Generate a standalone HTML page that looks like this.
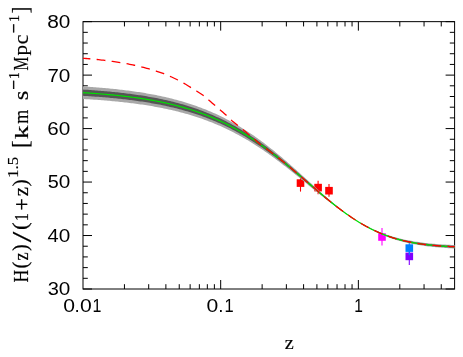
<!DOCTYPE html>
<html><head><meta charset="utf-8"><title>H(z)</title>
<style>html,body{margin:0;padding:0;background:#fff}body{width:463px;height:357px;overflow:hidden;font-family:"Liberation Sans",sans-serif}svg text{font-kerning:none}</style></head>
<body>
<svg width="463" height="357" viewBox="0 0 463 357" style="display:block;font-kerning:none">
<rect width="463" height="357" fill="#fff"/>
<g stroke="#000" stroke-width="1" fill="none" stroke-linecap="butt">
<rect x="83.00" y="21.65" width="371.60" height="267.35"/>
<path d="M124.45 289.00 v-4.80 M124.45 21.65 v4.80 M148.69 289.00 v-4.80 M148.69 21.65 v4.80 M165.89 289.00 v-4.80 M165.89 21.65 v4.80 M179.24 289.00 v-4.80 M179.24 21.65 v4.80 M190.14 289.00 v-4.80 M190.14 21.65 v4.80 M199.35 289.00 v-4.80 M199.35 21.65 v4.80 M207.34 289.00 v-4.80 M207.34 21.65 v4.80 M214.38 289.00 v-4.80 M214.38 21.65 v4.80 M220.68 289.00 v-9.00 M220.68 21.65 v9.00 M262.13 289.00 v-4.80 M262.13 21.65 v4.80 M286.37 289.00 v-4.80 M286.37 21.65 v4.80 M303.58 289.00 v-4.80 M303.58 21.65 v4.80 M316.92 289.00 v-4.80 M316.92 21.65 v4.80 M327.82 289.00 v-4.80 M327.82 21.65 v4.80 M337.04 289.00 v-4.80 M337.04 21.65 v4.80 M345.02 289.00 v-4.80 M345.02 21.65 v4.80 M352.06 289.00 v-4.80 M352.06 21.65 v4.80 M358.36 289.00 v-9.00 M358.36 21.65 v9.00 M399.81 289.00 v-4.80 M399.81 21.65 v4.80 M424.06 289.00 v-4.80 M424.06 21.65 v4.80 M441.26 289.00 v-4.80 M441.26 21.65 v4.80 M83.00 289.00 h9.00 M454.60 289.00 h-9.00 M83.00 278.31 h4.80 M454.60 278.31 h-4.80 M83.00 267.61 h4.80 M454.60 267.61 h-4.80 M83.00 256.92 h4.80 M454.60 256.92 h-4.80 M83.00 246.22 h4.80 M454.60 246.22 h-4.80 M83.00 235.53 h9.00 M454.60 235.53 h-9.00 M83.00 224.84 h4.80 M454.60 224.84 h-4.80 M83.00 214.14 h4.80 M454.60 214.14 h-4.80 M83.00 203.45 h4.80 M454.60 203.45 h-4.80 M83.00 192.75 h4.80 M454.60 192.75 h-4.80 M83.00 182.06 h9.00 M454.60 182.06 h-9.00 M83.00 171.37 h4.80 M454.60 171.37 h-4.80 M83.00 160.67 h4.80 M454.60 160.67 h-4.80 M83.00 149.98 h4.80 M454.60 149.98 h-4.80 M83.00 139.28 h4.80 M454.60 139.28 h-4.80 M83.00 128.59 h9.00 M454.60 128.59 h-9.00 M83.00 117.90 h4.80 M454.60 117.90 h-4.80 M83.00 107.20 h4.80 M454.60 107.20 h-4.80 M83.00 96.51 h4.80 M454.60 96.51 h-4.80 M83.00 85.81 h4.80 M454.60 85.81 h-4.80 M83.00 75.12 h9.00 M454.60 75.12 h-9.00 M83.00 64.43 h4.80 M454.60 64.43 h-4.80 M83.00 53.73 h4.80 M454.60 53.73 h-4.80 M83.00 43.04 h4.80 M454.60 43.04 h-4.80 M83.00 32.34 h4.80 M454.60 32.34 h-4.80 M83.00 21.65 h9.00 M454.60 21.65 h-9.00"/>
</g>
<line x1="409.30" y1="248.20" x2="409.30" y2="265.00" stroke="#8000ff" stroke-width="1.1"/>
<rect x="405.50" y="252.60" width="7.60" height="7.60" fill="#8000ff"/>
<line x1="409.30" y1="242.00" x2="409.30" y2="255.00" stroke="#0080ff" stroke-width="1.1"/>
<rect x="405.50" y="244.30" width="7.60" height="7.60" fill="#0080ff"/>
<line x1="382.00" y1="228.10" x2="382.00" y2="245.50" stroke="#ff00ff" stroke-width="1.1"/>
<rect x="378.20" y="233.20" width="7.60" height="7.60" fill="#ff00ff"/>
<line x1="300.50" y1="176.70" x2="300.50" y2="191.60" stroke="#ff0000" stroke-width="1.1"/>
<rect x="296.70" y="179.30" width="7.60" height="7.60" fill="#ff0000"/>
<line x1="318.10" y1="180.80" x2="318.10" y2="194.30" stroke="#ff0000" stroke-width="1.1"/>
<rect x="314.30" y="183.80" width="7.60" height="7.60" fill="#ff0000"/>
<line x1="329.00" y1="184.00" x2="329.00" y2="196.80" stroke="#ff0000" stroke-width="1.1"/>
<rect x="325.20" y="186.90" width="7.60" height="7.60" fill="#ff0000"/>
<defs><clipPath id="c"><rect x="82.50" y="21.15" width="372.60" height="268.35"/></clipPath></defs>
<g clip-path="url(#c)" fill="none" stroke-linejoin="round">
<path d="M83.00 86.42 L84.55 86.52 L86.11 86.62 L87.66 86.72 L89.22 86.83 L90.77 86.94 L92.33 87.05 L93.88 87.17 L95.44 87.28 L96.99 87.40 L98.55 87.53 L100.10 87.66 L101.66 87.79 L103.21 87.92 L104.77 88.06 L106.32 88.20 L107.88 88.34 L109.43 88.49 L110.99 88.64 L112.54 88.80 L114.10 88.96 L115.65 89.12 L117.21 89.29 L118.76 89.46 L120.32 89.63 L121.87 89.81 L123.43 90.00 L124.98 90.19 L126.53 90.38 L128.09 90.58 L129.64 90.78 L131.20 90.99 L132.75 91.20 L134.31 91.42 L135.86 91.65 L137.42 91.88 L138.97 92.11 L140.53 92.35 L142.08 92.60 L143.64 92.85 L145.19 93.11 L146.75 93.38 L148.30 93.65 L149.86 93.93 L151.41 94.21 L152.97 94.50 L154.52 94.80 L156.08 95.11 L157.63 95.42 L159.19 95.74 L160.74 96.07 L162.30 96.40 L163.85 96.75 L165.41 97.10 L166.96 97.46 L168.51 97.83 L170.07 98.20 L171.62 98.59 L173.18 98.98 L174.73 99.39 L176.29 99.80 L177.84 100.22 L179.40 100.65 L180.95 101.09 L182.51 101.54 L184.06 102.01 L185.62 102.48 L187.17 102.96 L188.73 103.45 L190.28 103.95 L191.84 104.47 L193.39 104.99 L194.95 105.53 L196.50 106.08 L198.06 106.64 L199.61 107.21 L201.17 107.79 L202.72 108.39 L204.28 109.00 L205.83 109.62 L207.38 110.25 L208.94 110.90 L210.49 111.56 L212.05 112.23 L213.60 112.92 L215.16 113.62 L216.71 114.33 L218.27 115.06 L219.82 115.80 L221.38 116.56 L222.93 117.33 L224.49 118.11 L226.04 118.91 L227.60 119.72 L229.15 120.55 L230.71 121.39 L232.26 122.25 L233.82 123.13 L235.37 124.01 L236.93 124.92 L238.48 125.84 L240.04 126.77 L241.59 127.72 L243.15 128.68 L244.70 129.66 L246.26 130.66 L247.81 131.67 L249.36 132.70 L250.92 133.74 L252.47 134.80 L254.03 135.87 L255.58 136.96 L257.14 138.06 L258.69 139.17 L260.25 140.31 L261.80 141.45 L263.36 142.61 L264.91 143.79 L266.47 144.98 L268.02 146.18 L269.58 147.40 L271.13 148.63 L272.69 149.87 L274.24 151.12 L275.80 152.39 L277.35 153.67 L278.91 154.96 L280.46 156.26 L282.02 157.58 L283.57 158.90 L285.13 160.23 L286.68 161.58 L288.24 162.93 L289.79 164.29 L291.34 165.65 L292.90 167.03 L294.45 168.41 L296.01 169.80 L297.56 171.19 L299.12 172.59 L300.67 173.99 L302.23 175.39 L303.78 176.80 L305.34 178.21 L306.89 179.62 L308.45 181.03 L310.00 182.44 L311.56 183.85 L313.11 185.26 L314.67 186.67 L316.22 188.07 L317.78 189.47 L319.33 190.86 L320.89 192.25 L322.44 193.63 L324.00 195.00 L325.55 196.36 L327.11 197.72 L328.66 199.06 L330.22 200.40 L331.77 201.72 L333.32 203.03 L334.88 204.33 L336.43 205.61 L337.99 206.88 L339.54 208.14 L341.10 209.37 L342.65 210.60 L344.21 211.80 L345.76 212.99 L347.32 214.16 L348.87 215.31 L350.43 216.44 L351.98 217.55 L353.54 218.64 L355.09 219.71 L356.65 220.64 L358.20 221.55 L359.76 222.44 L361.31 223.31 L362.87 224.16 L364.42 224.99 L365.98 225.80 L367.53 226.59 L369.09 227.36 L370.64 228.10 L372.19 228.83 L373.75 229.54 L375.30 230.22 L376.86 230.89 L378.41 231.53 L379.97 232.16 L381.52 232.76 L383.08 233.35 L384.63 233.91 L386.19 234.46 L387.74 234.99 L389.30 235.49 L390.85 235.98 L392.41 236.46 L393.96 236.91 L395.52 237.35 L397.07 237.77 L398.63 238.17 L400.18 238.56 L401.74 238.93 L403.29 239.29 L404.85 239.63 L406.40 239.95 L407.96 240.27 L409.51 240.56 L411.07 240.85 L412.62 241.12 L414.17 241.38 L415.73 241.63 L417.28 241.87 L418.84 242.09 L420.39 242.31 L421.95 242.51 L423.50 242.70 L425.06 242.89 L426.61 243.06 L428.17 243.23 L429.72 243.39 L431.28 243.54 L432.83 243.68 L434.39 243.81 L435.94 243.94 L437.50 244.06 L439.05 244.17 L440.61 244.28 L442.16 244.38 L443.72 244.48 L445.27 244.57 L446.83 244.65 L448.38 244.74 L449.94 244.81 L451.49 244.88 L453.05 244.95 L454.60 245.01 L454.60 248.46 L453.05 248.39 L451.49 248.31 L449.94 248.23 L448.38 248.14 L446.83 248.05 L445.27 247.95 L443.72 247.85 L442.16 247.74 L440.61 247.62 L439.05 247.50 L437.50 247.37 L435.94 247.23 L434.39 247.09 L432.83 246.93 L431.28 246.77 L429.72 246.60 L428.17 246.42 L426.61 246.23 L425.06 246.03 L423.50 245.82 L421.95 245.59 L420.39 245.36 L418.84 245.12 L417.28 244.86 L415.73 244.59 L414.17 244.30 L412.62 244.01 L411.07 243.70 L409.51 243.37 L407.96 243.03 L406.40 242.67 L404.85 242.30 L403.29 241.91 L401.74 241.50 L400.18 241.08 L398.63 240.64 L397.07 240.18 L395.52 239.70 L393.96 239.20 L392.41 238.68 L390.85 238.14 L389.30 237.59 L387.74 237.01 L386.19 236.41 L384.63 235.79 L383.08 235.14 L381.52 234.48 L379.97 233.79 L378.41 233.08 L376.86 232.35 L375.30 231.59 L373.75 230.82 L372.19 230.01 L370.64 229.19 L369.09 228.34 L367.53 227.48 L365.98 226.58 L364.42 225.67 L362.87 224.73 L361.31 223.77 L359.76 222.79 L358.20 221.78 L356.65 220.75 L355.09 219.71 L353.54 218.76 L351.98 217.79 L350.43 216.81 L348.87 215.80 L347.32 214.78 L345.76 213.74 L344.21 212.69 L342.65 211.61 L341.10 210.52 L339.54 209.42 L337.99 208.30 L336.43 207.17 L334.88 206.02 L333.32 204.86 L331.77 203.69 L330.22 202.51 L328.66 201.31 L327.11 200.11 L325.55 198.90 L324.00 197.67 L322.44 196.44 L320.89 195.21 L319.33 193.96 L317.78 192.71 L316.22 191.46 L314.67 190.20 L313.11 188.93 L311.56 187.67 L310.00 186.40 L308.45 185.13 L306.89 183.86 L305.34 182.58 L303.78 181.31 L302.23 180.04 L300.67 178.78 L299.12 177.51 L297.56 176.25 L296.01 174.99 L294.45 173.74 L292.90 172.49 L291.34 171.24 L289.79 170.01 L288.24 168.77 L286.68 167.55 L285.13 166.33 L283.57 165.13 L282.02 163.93 L280.46 162.74 L278.91 161.55 L277.35 160.38 L275.80 159.22 L274.24 158.07 L272.69 156.93 L271.13 155.80 L269.58 154.69 L268.02 153.58 L266.47 152.49 L264.91 151.40 L263.36 150.34 L261.80 149.28 L260.25 148.24 L258.69 147.21 L257.14 146.19 L255.58 145.19 L254.03 144.19 L252.47 143.22 L250.92 142.25 L249.36 141.30 L247.81 140.37 L246.26 139.45 L244.70 138.54 L243.15 137.64 L241.59 136.76 L240.04 135.90 L238.48 135.05 L236.93 134.21 L235.37 133.38 L233.82 132.57 L232.26 131.77 L230.71 130.99 L229.15 130.22 L227.60 129.46 L226.04 128.72 L224.49 127.99 L222.93 127.27 L221.38 126.57 L219.82 125.87 L218.27 125.20 L216.71 124.53 L215.16 123.88 L213.60 123.24 L212.05 122.61 L210.49 121.99 L208.94 121.39 L207.38 120.80 L205.83 120.22 L204.28 119.65 L202.72 119.09 L201.17 118.55 L199.61 118.01 L198.06 117.49 L196.50 116.98 L194.95 116.47 L193.39 115.98 L191.84 115.50 L190.28 115.03 L188.73 114.57 L187.17 114.12 L185.62 113.68 L184.06 113.24 L182.51 112.82 L180.95 112.41 L179.40 112.00 L177.84 111.61 L176.29 111.22 L174.73 110.84 L173.18 110.47 L171.62 110.11 L170.07 109.76 L168.51 109.41 L166.96 109.08 L165.41 108.75 L163.85 108.42 L162.30 108.11 L160.74 107.80 L159.19 107.50 L157.63 107.21 L156.08 106.92 L154.52 106.64 L152.97 106.36 L151.41 106.10 L149.86 105.84 L148.30 105.58 L146.75 105.33 L145.19 105.09 L143.64 104.85 L142.08 104.62 L140.53 104.39 L138.97 104.17 L137.42 103.95 L135.86 103.74 L134.31 103.54 L132.75 103.34 L131.20 103.14 L129.64 102.95 L128.09 102.76 L126.53 102.58 L124.98 102.40 L123.43 102.23 L121.87 102.06 L120.32 101.89 L118.76 101.73 L117.21 101.58 L115.65 101.42 L114.10 101.27 L112.54 101.13 L110.99 100.98 L109.43 100.84 L107.88 100.71 L106.32 100.58 L104.77 100.45 L103.21 100.32 L101.66 100.20 L100.10 100.08 L98.55 99.96 L96.99 99.85 L95.44 99.74 L93.88 99.63 L92.33 99.52 L90.77 99.42 L89.22 99.32 L87.66 99.22 L86.11 99.13 L84.55 99.03 L83.00 98.94Z" fill="#a8a8a8" stroke="none"/>
<path d="M83.00 89.55 L84.55 89.65 L86.11 89.75 L87.66 89.85 L89.22 89.95 L90.77 90.06 L92.33 90.17 L93.88 90.28 L95.44 90.40 L96.99 90.52 L98.55 90.64 L100.10 90.76 L101.66 90.89 L103.21 91.02 L104.77 91.16 L106.32 91.29 L107.88 91.44 L109.43 91.58 L110.99 91.73 L112.54 91.88 L114.10 92.04 L115.65 92.20 L117.21 92.36 L118.76 92.53 L120.32 92.70 L121.87 92.88 L123.43 93.06 L124.98 93.24 L126.53 93.43 L128.09 93.63 L129.64 93.83 L131.20 94.03 L132.75 94.24 L134.31 94.45 L135.86 94.67 L137.42 94.90 L138.97 95.13 L140.53 95.37 L142.08 95.61 L143.64 95.85 L145.19 96.11 L146.75 96.37 L148.30 96.63 L149.86 96.91 L151.41 97.19 L152.97 97.47 L154.52 97.76 L156.08 98.06 L157.63 98.37 L159.19 98.68 L160.74 99.01 L162.30 99.33 L163.85 99.67 L165.41 100.02 L166.96 100.37 L168.51 100.73 L170.07 101.10 L171.62 101.47 L173.18 101.86 L174.73 102.26 L176.29 102.66 L177.84 103.07 L179.40 103.50 L180.95 103.93 L182.51 104.37 L184.06 104.82 L185.62 105.28 L187.17 105.75 L188.73 106.24 L190.28 106.73 L191.84 107.23 L193.39 107.75 L194.95 108.27 L196.50 108.81 L198.06 109.36 L199.61 109.92 L201.17 110.49 L202.72 111.07 L204.28 111.67 L205.83 112.28 L207.38 112.90 L208.94 113.53 L210.49 114.18 L212.05 114.83 L213.60 115.51 L215.16 116.19 L216.71 116.89 L218.27 117.60 L219.82 118.33 L221.38 119.07 L222.93 119.82 L224.49 120.59 L226.04 121.37 L227.60 122.17 L229.15 122.98 L230.71 123.80 L232.26 124.64 L233.82 125.50 L235.37 126.37 L236.93 127.25 L238.48 128.15 L240.04 129.07 L241.59 129.99 L243.15 130.94 L244.70 131.90 L246.26 132.87 L247.81 133.86 L249.36 134.86 L250.92 135.88 L252.47 136.92 L254.03 137.97 L255.58 139.03 L257.14 140.11 L258.69 141.20 L260.25 142.31 L261.80 143.43 L263.36 144.56 L264.91 145.71 L266.47 146.87 L268.02 148.05 L269.58 149.24 L271.13 150.44 L272.69 151.65 L274.24 152.88 L275.80 154.12 L277.35 155.37 L278.91 156.63 L280.46 157.90 L282.02 159.19 L283.57 160.48 L285.13 161.78 L286.68 163.09 L288.24 164.41 L289.79 165.74 L291.34 167.07 L292.90 168.42 L294.45 169.77 L296.01 171.12 L297.56 172.48 L299.12 173.84 L300.67 175.21 L302.23 176.58 L303.78 177.95 L305.34 179.33 L306.89 180.71 L308.45 182.08 L310.00 183.46 L311.56 184.83 L313.11 186.21 L314.67 187.58 L316.22 188.94 L317.78 190.30 L319.33 191.66 L320.89 193.01 L322.44 194.36 L324.00 195.69 L325.55 197.02 L327.11 198.34 L328.66 199.65 L330.22 200.95 L331.77 202.24 L333.32 203.52 L334.88 204.78 L336.43 206.03 L337.99 207.26 L339.54 208.48 L341.10 209.69 L342.65 210.88 L344.21 212.05 L345.76 213.20 L347.32 214.34 L348.87 215.46 L350.43 216.56 L351.98 217.64 L353.54 218.70 L355.09 219.73 L356.65 220.70 L358.20 221.63 L359.76 222.55 L361.31 223.45 L362.87 224.33 L364.42 225.19 L365.98 226.02 L367.53 226.84 L369.09 227.63 L370.64 228.40 L372.19 229.15 L373.75 229.88 L375.30 230.59 L376.86 231.28 L378.41 231.94 L379.97 232.59 L381.52 233.21 L383.08 233.82 L384.63 234.40 L386.19 234.97 L387.74 235.51 L389.30 236.04 L390.85 236.55 L392.41 237.04 L393.96 237.51 L395.52 237.96 L397.07 238.39 L398.63 238.81 L400.18 239.21 L401.74 239.60 L403.29 239.96 L404.85 240.32 L406.40 240.65 L407.96 240.98 L409.51 241.29 L411.07 241.58 L412.62 241.86 L414.17 242.13 L415.73 242.39 L417.28 242.63 L418.84 242.87 L420.39 243.09 L421.95 243.30 L423.50 243.50 L425.06 243.69 L426.61 243.87 L428.17 244.05 L429.72 244.21 L431.28 244.36 L432.83 244.51 L434.39 244.65 L435.94 244.78 L437.50 244.91 L439.05 245.02 L440.61 245.14 L442.16 245.24 L443.72 245.34 L445.27 245.43 L446.83 245.52 L448.38 245.61 L449.94 245.69 L451.49 245.76 L453.05 245.83 L454.60 245.90 L454.60 247.62 L453.05 247.55 L451.49 247.47 L449.94 247.40 L448.38 247.31 L446.83 247.22 L445.27 247.13 L443.72 247.03 L442.16 246.92 L440.61 246.81 L439.05 246.69 L437.50 246.56 L435.94 246.43 L434.39 246.29 L432.83 246.14 L431.28 245.98 L429.72 245.81 L428.17 245.64 L426.61 245.46 L425.06 245.26 L423.50 245.06 L421.95 244.84 L420.39 244.62 L418.84 244.38 L417.28 244.13 L415.73 243.87 L414.17 243.59 L412.62 243.31 L411.07 243.01 L409.51 242.69 L407.96 242.36 L406.40 242.01 L404.85 241.65 L403.29 241.28 L401.74 240.88 L400.18 240.47 L398.63 240.04 L397.07 239.60 L395.52 239.13 L393.96 238.65 L392.41 238.15 L390.85 237.63 L389.30 237.09 L387.74 236.52 L386.19 235.94 L384.63 235.34 L383.08 234.72 L381.52 234.07 L379.97 233.41 L378.41 232.72 L376.86 232.01 L375.30 231.28 L373.75 230.52 L372.19 229.74 L370.64 228.94 L369.09 228.12 L367.53 227.28 L365.98 226.41 L364.42 225.52 L362.87 224.61 L361.31 223.68 L359.76 222.73 L358.20 221.75 L356.65 220.75 L355.09 219.74 L353.54 218.76 L351.98 217.76 L350.43 216.74 L348.87 215.71 L347.32 214.65 L345.76 213.58 L344.21 212.49 L342.65 211.39 L341.10 210.26 L339.54 209.13 L337.99 207.97 L336.43 206.81 L334.88 205.63 L333.32 204.43 L331.77 203.23 L330.22 202.01 L328.66 200.78 L327.11 199.54 L325.55 198.29 L324.00 197.03 L322.44 195.77 L320.89 194.49 L319.33 193.21 L317.78 191.93 L316.22 190.64 L314.67 189.34 L313.11 188.04 L311.56 186.74 L310.00 185.43 L308.45 184.13 L306.89 182.82 L305.34 181.52 L303.78 180.21 L302.23 178.91 L300.67 177.60 L299.12 176.30 L297.56 175.01 L296.01 173.72 L294.45 172.43 L292.90 171.15 L291.34 169.87 L289.79 168.60 L288.24 167.34 L286.68 166.08 L285.13 164.83 L283.57 163.59 L282.02 162.36 L280.46 161.14 L278.91 159.93 L277.35 158.73 L275.80 157.53 L274.24 156.35 L272.69 155.19 L271.13 154.03 L269.58 152.88 L268.02 151.75 L266.47 150.63 L264.91 149.52 L263.36 148.42 L261.80 147.34 L260.25 146.27 L258.69 145.22 L257.14 144.17 L255.58 143.14 L254.03 142.13 L252.47 141.13 L250.92 140.14 L249.36 139.17 L247.81 138.21 L246.26 137.27 L244.70 136.33 L243.15 135.42 L241.59 134.52 L240.04 133.63 L238.48 132.76 L236.93 131.90 L235.37 131.05 L233.82 130.22 L232.26 129.40 L230.71 128.60 L229.15 127.81 L227.60 127.04 L226.04 126.28 L224.49 125.53 L222.93 124.79 L221.38 124.07 L219.82 123.37 L218.27 122.67 L216.71 121.99 L215.16 121.32 L213.60 120.67 L212.05 120.02 L210.49 119.39 L208.94 118.78 L207.38 118.17 L205.83 117.58 L204.28 116.99 L202.72 116.42 L201.17 115.87 L199.61 115.32 L198.06 114.78 L196.50 114.26 L194.95 113.75 L193.39 113.24 L191.84 112.75 L190.28 112.27 L188.73 111.80 L187.17 111.33 L185.62 110.88 L184.06 110.44 L182.51 110.01 L180.95 109.59 L179.40 109.17 L177.84 108.77 L176.29 108.37 L174.73 107.98 L173.18 107.61 L171.62 107.24 L170.07 106.88 L168.51 106.52 L166.96 106.18 L165.41 105.84 L163.85 105.51 L162.30 105.19 L160.74 104.87 L159.19 104.56 L157.63 104.26 L156.08 103.97 L154.52 103.68 L152.97 103.40 L151.41 103.13 L149.86 102.86 L148.30 102.60 L146.75 102.35 L145.19 102.10 L143.64 101.85 L142.08 101.62 L140.53 101.38 L138.97 101.16 L137.42 100.94 L135.86 100.72 L134.31 100.51 L132.75 100.31 L131.20 100.11 L129.64 99.91 L128.09 99.72 L126.53 99.53 L124.98 99.35 L123.43 99.17 L121.87 99.00 L120.32 98.83 L118.76 98.67 L117.21 98.50 L115.65 98.35 L114.10 98.19 L112.54 98.05 L110.99 97.90 L109.43 97.76 L107.88 97.62 L106.32 97.48 L104.77 97.35 L103.21 97.22 L101.66 97.10 L100.10 96.97 L98.55 96.86 L96.99 96.74 L95.44 96.63 L93.88 96.51 L92.33 96.41 L90.77 96.30 L89.22 96.20 L87.66 96.10 L86.11 96.00 L84.55 95.90 L83.00 95.81Z" fill="#555" stroke="none"/>
<path d="M83.00 92.68 L84.55 92.78 L86.11 92.87 L87.66 92.97 L89.22 93.08 L90.77 93.18 L92.33 93.29 L93.88 93.40 L95.44 93.51 L96.99 93.63 L98.55 93.75 L100.10 93.87 L101.66 93.99 L103.21 94.12 L104.77 94.25 L106.32 94.39 L107.88 94.53 L109.43 94.67 L110.99 94.81 L112.54 94.96 L114.10 95.12 L115.65 95.27 L117.21 95.43 L118.76 95.60 L120.32 95.77 L121.87 95.94 L123.43 96.12 L124.98 96.30 L126.53 96.48 L128.09 96.67 L129.64 96.87 L131.20 97.07 L132.75 97.27 L134.31 97.48 L135.86 97.70 L137.42 97.92 L138.97 98.14 L140.53 98.38 L142.08 98.61 L143.64 98.86 L145.19 99.10 L146.75 99.36 L148.30 99.62 L149.86 99.89 L151.41 100.16 L152.97 100.44 L154.52 100.72 L156.08 101.02 L157.63 101.32 L159.19 101.63 L160.74 101.94 L162.30 102.26 L163.85 102.59 L165.41 102.93 L166.96 103.27 L168.51 103.63 L170.07 103.99 L171.62 104.36 L173.18 104.74 L174.73 105.12 L176.29 105.52 L177.84 105.92 L179.40 106.34 L180.95 106.76 L182.51 107.19 L184.06 107.63 L185.62 108.08 L187.17 108.55 L188.73 109.02 L190.28 109.50 L191.84 109.99 L193.39 110.50 L194.95 111.01 L196.50 111.54 L198.06 112.07 L199.61 112.62 L201.17 113.18 L202.72 113.75 L204.28 114.33 L205.83 114.93 L207.38 115.54 L208.94 116.16 L210.49 116.79 L212.05 117.43 L213.60 118.09 L215.16 118.76 L216.71 119.44 L218.27 120.14 L219.82 120.85 L221.38 121.57 L222.93 122.31 L224.49 123.06 L226.04 123.83 L227.60 124.61 L229.15 125.40 L230.71 126.21 L232.26 127.03 L233.82 127.86 L235.37 128.71 L236.93 129.58 L238.48 130.46 L240.04 131.35 L241.59 132.26 L243.15 133.18 L244.70 134.12 L246.26 135.07 L247.81 136.04 L249.36 137.02 L250.92 138.02 L252.47 139.03 L254.03 140.05 L255.58 141.09 L257.14 142.15 L258.69 143.21 L260.25 144.29 L261.80 145.39 L263.36 146.50 L264.91 147.62 L266.47 148.76 L268.02 149.90 L269.58 151.07 L271.13 152.24 L272.69 153.43 L274.24 154.62 L275.80 155.83 L277.35 157.05 L278.91 158.29 L280.46 159.53 L282.02 160.78 L283.57 162.04 L285.13 163.31 L286.68 164.59 L288.24 165.88 L289.79 167.18 L291.34 168.48 L292.90 169.79 L294.45 171.10 L296.01 172.43 L297.56 173.75 L299.12 175.08 L300.67 176.42 L302.23 177.75 L303.78 179.09 L305.34 180.43 L306.89 181.77 L308.45 183.11 L310.00 184.46 L311.56 185.79 L313.11 187.13 L314.67 188.47 L316.22 189.80 L317.78 191.12 L319.33 192.45 L320.89 193.76 L322.44 195.07 L324.00 196.37 L325.55 197.67 L327.11 198.95 L328.66 200.23 L330.22 201.49 L331.77 202.74 L333.32 203.98 L334.88 205.21 L336.43 206.43 L337.99 207.63 L339.54 208.81 L341.10 209.99 L342.65 211.14 L344.21 212.28 L345.76 213.40 L347.32 214.51 L348.87 215.59 L350.43 216.66 L351.98 217.71 L353.54 218.74 L355.09 219.74 L356.65 220.73 L358.20 221.70 L359.76 222.65 L361.31 223.58 L362.87 224.48 L364.42 225.36 L365.98 226.23 L367.53 227.07 L369.09 227.88 L370.64 228.68 L372.19 229.46 L373.75 230.21 L375.30 230.94 L376.86 231.65 L378.41 232.34 L379.97 233.01 L381.52 233.65 L383.08 234.28 L384.63 234.88 L386.19 235.46 L387.74 236.03 L389.30 236.57 L390.85 237.09 L392.41 237.60 L393.96 238.09 L395.52 238.55 L397.07 239.00 L398.63 239.43 L400.18 239.85 L401.74 240.25 L403.29 240.63 L404.85 240.99 L406.40 241.34 L407.96 241.68 L409.51 242.00 L411.07 242.30 L412.62 242.59 L414.17 242.87 L415.73 243.14 L417.28 243.39 L418.84 243.63 L420.39 243.86 L421.95 244.08 L423.50 244.29 L425.06 244.48 L426.61 244.67 L428.17 244.85 L429.72 245.02 L431.28 245.18 L432.83 245.33 L434.39 245.47 L435.94 245.61 L437.50 245.74 L439.05 245.86 L440.61 245.98 L442.16 246.09 L443.72 246.19 L445.27 246.29 L446.83 246.38 L448.38 246.46 L449.94 246.55 L451.49 246.62 L453.05 246.70 L454.60 246.76" stroke="#00e000" stroke-width="1.2"/>
<path d="M83.00 58.30 L84.55 58.41 L86.11 58.52 L87.66 58.64 L89.22 58.77 L90.77 58.90 L92.33 59.04 L93.88 59.19 L95.44 59.34 L96.99 59.51 L98.55 59.67 L100.10 59.85 L101.66 60.03 L103.21 60.22 L104.77 60.41 L106.32 60.61 L107.88 60.81 L109.43 61.02 L110.99 61.23 L112.54 61.45 L114.10 61.68 L115.65 61.91 L117.21 62.14 L118.76 62.38 L120.32 62.62 L121.87 62.88 L123.43 63.14 L124.98 63.41 L126.53 63.69 L128.09 63.98 L129.64 64.28 L131.20 64.59 L132.75 64.92 L134.31 65.25 L135.86 65.59 L137.42 65.94 L138.97 66.31 L140.53 66.68 L142.08 67.07 L143.64 67.46 L145.19 67.87 L146.75 68.29 L148.30 68.72 L149.86 69.16 L151.41 69.61 L152.97 70.07 L154.52 70.55 L156.08 71.03 L157.63 71.53 L159.19 72.04 L160.74 72.57 L162.30 73.12 L163.85 73.70 L165.41 74.31 L166.96 74.94 L168.51 75.60 L170.07 76.29 L171.62 77.00 L173.18 77.73 L174.73 78.48 L176.29 79.25 L177.84 80.04 L179.40 80.85 L180.95 81.67 L182.51 82.51 L184.06 83.36 L185.62 84.26 L187.17 85.21 L188.73 86.19 L190.28 87.16 L191.84 88.10 L193.39 89.04 L194.95 89.99 L196.50 90.96 L198.06 91.96 L199.61 92.96 L201.17 93.99 L202.72 95.07 L204.28 96.24 L205.83 97.53 L207.38 98.90 L208.94 100.25 L210.49 101.59 L212.05 102.93 L213.60 104.27 L215.16 105.60 L216.71 106.93 L218.27 108.25 L219.82 109.58 L221.38 110.93 L222.93 112.30 L224.49 113.68 L226.04 115.08 L227.60 116.53 L229.15 118.04 L230.71 119.54 L232.26 120.91 L233.82 122.18 L235.37 123.42 L236.93 124.65 L238.48 125.89 L240.04 127.14 L241.59 128.41 L243.15 129.68 L244.70 130.98 L246.26 132.29 L247.81 133.62 L249.36 134.96 L250.92 136.33 L252.47 137.71 L254.03 139.07 L255.58 140.37 L257.14 141.67 L258.69 142.96 L260.25 144.21 L261.80 145.39 L263.36 146.50 L264.91 147.62 L266.47 148.76 L268.02 149.90 L269.58 151.07 L271.13 152.24 L272.69 153.43 L274.24 154.62 L275.80 155.83 L277.35 157.05 L278.91 158.29 L280.46 159.53 L282.02 160.78 L283.57 162.04 L285.13 163.31 L286.68 164.59 L288.24 165.88 L289.79 167.18 L291.34 168.48 L292.90 169.79 L294.45 171.10 L296.01 172.43 L297.56 173.75 L299.12 175.08 L300.67 176.42 L302.23 177.75 L303.78 179.09 L305.34 180.43 L306.89 181.77 L308.45 183.11 L310.00 184.46 L311.56 185.79 L313.11 187.13 L314.67 188.47 L316.22 189.80 L317.78 191.12 L319.33 192.45 L320.89 193.76 L322.44 195.07 L324.00 196.37 L325.55 197.67 L327.11 198.95 L328.66 200.23 L330.22 201.49 L331.77 202.74 L333.32 203.98 L334.88 205.21 L336.43 206.43 L337.99 207.63 L339.54 208.81 L341.10 209.99 L342.65 211.14 L344.21 212.28 L345.76 213.40 L347.32 214.51 L348.87 215.59 L350.43 216.66 L351.98 217.71 L353.54 218.74 L355.09 219.74 L356.65 220.73 L358.20 221.70 L359.76 222.65 L361.31 223.58 L362.87 224.48 L364.42 225.36 L365.98 226.23 L367.53 227.07 L369.09 227.88 L370.64 228.68 L372.19 229.46 L373.75 230.21 L375.30 230.94 L376.86 231.65 L378.41 232.34 L379.97 233.01 L381.52 233.65 L383.08 234.28 L384.63 234.88 L386.19 235.46 L387.74 236.03 L389.30 236.57 L390.85 237.09 L392.41 237.60 L393.96 238.09 L395.52 238.55 L397.07 239.00 L398.63 239.43 L400.18 239.85 L401.74 240.25 L403.29 240.63 L404.85 240.99 L406.40 241.34 L407.96 241.68 L409.51 242.00 L411.07 242.30 L412.62 242.59 L414.17 242.87 L415.73 243.14 L417.28 243.39 L418.84 243.63 L420.39 243.86 L421.95 244.08 L423.50 244.29 L425.06 244.48 L426.61 244.67 L428.17 244.85 L429.72 245.02 L431.28 245.18 L432.83 245.33 L434.39 245.47 L435.94 245.61 L437.50 245.74 L439.05 245.86 L440.61 245.98 L442.16 246.09 L443.72 246.19 L445.27 246.29 L446.83 246.38 L448.38 246.46 L449.94 246.55 L451.49 246.62 L453.05 246.70 L454.60 246.76" stroke="#f00" stroke-width="1.3" stroke-dasharray="8.8 6.3" stroke-dashoffset="1.4"/>
</g>
<g opacity="0.999">
<text transform="matrix(1.0019 0 0 0.9181 47.637 295.421)" font-family="'Liberation Sans', sans-serif" font-size="20" fill="#000">3</text>
<text transform="matrix(1.0355 0 0 0.9181 58.791 295.421)" font-family="'Liberation Sans', sans-serif" font-size="20" fill="#000">0</text>
<text transform="matrix(1.0022 0 0 0.9181 47.540 241.951)" font-family="'Liberation Sans', sans-serif" font-size="20" fill="#000">4</text>
<text transform="matrix(1.0355 0 0 0.9181 58.791 241.951)" font-family="'Liberation Sans', sans-serif" font-size="20" fill="#000">0</text>
<text transform="matrix(0.9913 0 0 0.9181 47.706 188.481)" font-family="'Liberation Sans', sans-serif" font-size="20" fill="#000">5</text>
<text transform="matrix(1.0355 0 0 0.9181 58.791 188.481)" font-family="'Liberation Sans', sans-serif" font-size="20" fill="#000">0</text>
<text transform="matrix(1.0294 0 0 0.9181 47.354 135.011)" font-family="'Liberation Sans', sans-serif" font-size="20" fill="#000">6</text>
<text transform="matrix(1.0355 0 0 0.9181 58.791 135.011)" font-family="'Liberation Sans', sans-serif" font-size="20" fill="#000">0</text>
<text transform="matrix(1.0229 0 0 0.9181 47.451 81.541)" font-family="'Liberation Sans', sans-serif" font-size="20" fill="#000">7</text>
<text transform="matrix(1.0355 0 0 0.9181 58.791 81.541)" font-family="'Liberation Sans', sans-serif" font-size="20" fill="#000">0</text>
<text transform="matrix(1.0442 0 0 0.9181 47.192 28.071)" font-family="'Liberation Sans', sans-serif" font-size="20" fill="#000">8</text>
<text transform="matrix(1.0355 0 0 0.9181 58.791 28.071)" font-family="'Liberation Sans', sans-serif" font-size="20" fill="#000">0</text>
<text transform="matrix(1.0564 0 0 0.9181 63.175 311.971)" font-family="'Liberation Sans', sans-serif" font-size="20" fill="#000">0</text>
<text transform="matrix(0.9452 0 0 0.9181 74.574 311.971)" font-family="'Liberation Sans', sans-serif" font-size="20" fill="#000">.</text>
<text transform="matrix(1.0564 0 0 0.9181 79.975 311.971)" font-family="'Liberation Sans', sans-serif" font-size="20" fill="#000">0</text>
<text transform="matrix(0.8002 0 0 0.9181 92.481 311.971)" font-family="'Liberation Sans', sans-serif" font-size="20" fill="#000">1</text>
<text transform="matrix(1.0564 0 0 0.9181 206.375 311.971)" font-family="'Liberation Sans', sans-serif" font-size="20" fill="#000">0</text>
<text transform="matrix(0.9452 0 0 0.9181 218.174 311.971)" font-family="'Liberation Sans', sans-serif" font-size="20" fill="#000">.</text>
<text transform="matrix(0.8234 0 0 0.9181 224.546 311.971)" font-family="'Liberation Sans', sans-serif" font-size="20" fill="#000">1</text>
<text transform="matrix(0.7770 0 0 0.9181 354.216 311.971)" font-family="'Liberation Sans', sans-serif" font-size="20" fill="#000">1</text>
<text transform="matrix(1.0150 0 0 0.9913 284.655 349.300)" font-family="'Liberation Serif', serif" font-size="20" fill="#000" stroke="#000" stroke-width="0.199" stroke-linejoin="round">z</text>
<text transform="matrix(0.0000 -0.8734 1.0080 0.0000 27.600 282.403)" font-family="'Liberation Serif', serif" font-size="20" fill="#000" stroke="#000" stroke-width="0.213" stroke-linejoin="round">H</text>
<text transform="matrix(0.0000 -1.0123 1.0477 0.0000 26.739 268.590)" font-family="'Liberation Serif', serif" font-size="20" fill="#000" stroke="#000" stroke-width="0.194" stroke-linejoin="round">(</text>
<text transform="matrix(0.0000 -0.9122 1.0676 0.0000 27.900 260.490)" font-family="'Liberation Serif', serif" font-size="20" fill="#000" stroke="#000" stroke-width="0.202" stroke-linejoin="round">z</text>
<text transform="matrix(0.0000 -0.9344 1.0477 0.0000 26.739 250.802)" font-family="'Liberation Serif', serif" font-size="20" fill="#000" stroke="#000" stroke-width="0.202" stroke-linejoin="round">)</text>
<text transform="matrix(0.0000 -1.9796 1.4052 0.0000 30.926 242.400)" font-family="'Liberation Serif', serif" font-size="20" fill="#000" stroke="#000" stroke-width="0.118" stroke-linejoin="round">/</text>
<text transform="matrix(0.0000 -1.1486 1.0477 0.0000 26.739 229.910)" font-family="'Liberation Serif', serif" font-size="20" fill="#000" stroke="#000" stroke-width="0.182" stroke-linejoin="round">(</text>
<text transform="matrix(0.0000 -0.8237 0.9770 0.0000 27.700 221.348)" font-family="'Liberation Serif', serif" font-size="20" fill="#000" stroke="#000" stroke-width="0.222" stroke-linejoin="round">1</text>
<text transform="matrix(0.0000 -1.0852 1.1485 0.0000 29.177 210.381)" font-family="'Liberation Serif', serif" font-size="20" fill="#000" stroke="#000" stroke-width="0.179" stroke-linejoin="round">+</text>
<text transform="matrix(0.0000 -1.0279 1.0676 0.0000 27.900 196.252)" font-family="'Liberation Serif', serif" font-size="20" fill="#000" stroke="#000" stroke-width="0.191" stroke-linejoin="round">z</text>
<text transform="matrix(0.0000 -1.0902 1.0477 0.0000 26.739 186.403)" font-family="'Liberation Serif', serif" font-size="20" fill="#000" stroke="#000" stroke-width="0.187" stroke-linejoin="round">)</text>
<text transform="matrix(0.0000 -0.8415 0.7267 0.0000 18.294 177.979)" font-family="'Liberation Serif', serif" font-size="20" fill="#000" stroke="#000" stroke-width="0.255" stroke-linejoin="round">1.5</text>
<text transform="matrix(0.0000 -1.1453 1.1599 0.0000 28.096 147.900)" font-family="'Liberation Serif', serif" font-size="20" fill="#000" stroke="#000" stroke-width="0.174" stroke-linejoin="round">[</text>
<text transform="matrix(0.0000 -1.3827 0.9512 0.0000 27.600 139.127)" font-family="'Liberation Serif', serif" font-size="20" fill="#000" stroke="#000" stroke-width="0.171" stroke-linejoin="round">k</text>
<text transform="matrix(0.0000 -0.8972 1.0399 0.0000 27.900 123.777)" font-family="'Liberation Serif', serif" font-size="20" fill="#000" stroke="#000" stroke-width="0.206" stroke-linejoin="round">m</text>
<text transform="matrix(0.0000 -1.2339 1.0188 0.0000 27.701 100.212)" font-family="'Liberation Serif', serif" font-size="20" fill="#000" stroke="#000" stroke-width="0.178" stroke-linejoin="round">s</text>
<text transform="matrix(0.0000 -0.8703 1.1043 0.0000 21.283 89.867)" font-family="'Liberation Serif', serif" font-size="20" fill="#000" stroke="#000" stroke-width="0.203" stroke-linejoin="round">−</text>
<text transform="matrix(0.0000 -0.6817 0.7422 0.0000 18.500 78.998)" font-family="'Liberation Serif', serif" font-size="20" fill="#000" stroke="#000" stroke-width="0.281" stroke-linejoin="round">1</text>
<text transform="matrix(0.0000 -0.7761 1.0080 0.0000 27.600 70.447)" font-family="'Liberation Serif', serif" font-size="20" fill="#000" stroke="#000" stroke-width="0.224" stroke-linejoin="round">M</text>
<text transform="matrix(0.0000 -1.0566 0.9794 0.0000 27.330 55.541)" font-family="'Liberation Serif', serif" font-size="20" fill="#000" stroke="#000" stroke-width="0.196" stroke-linejoin="round">p</text>
<text transform="matrix(0.0000 -1.0933 1.0188 0.0000 27.701 44.233)" font-family="'Liberation Serif', serif" font-size="20" fill="#000" stroke="#000" stroke-width="0.189" stroke-linejoin="round">c</text>
<text transform="matrix(0.0000 -0.8703 1.1043 0.0000 21.283 33.267)" font-family="'Liberation Serif', serif" font-size="20" fill="#000" stroke="#000" stroke-width="0.203" stroke-linejoin="round">−</text>
<text transform="matrix(0.0000 -0.6959 0.7422 0.0000 18.500 21.923)" font-family="'Liberation Serif', serif" font-size="20" fill="#000" stroke="#000" stroke-width="0.278" stroke-linejoin="round">1</text>
<text transform="matrix(0.0000 -1.0330 1.1599 0.0000 28.096 13.546)" font-family="'Liberation Serif', serif" font-size="20" fill="#000" stroke="#000" stroke-width="0.182" stroke-linejoin="round">]</text>
</g>
</svg>
</body></html>
